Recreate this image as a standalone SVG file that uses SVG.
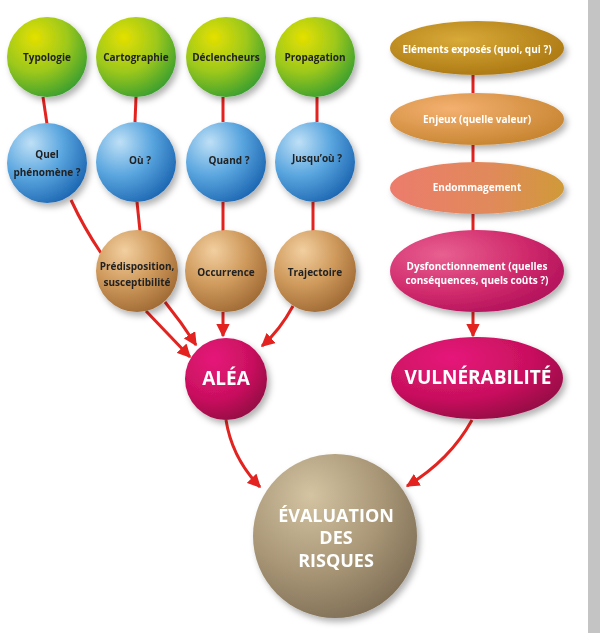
<svg xmlns="http://www.w3.org/2000/svg" width="600" height="633" viewBox="0 0 600 633">
<defs>
<radialGradient id="gGreen" cx="0.35" cy="0.3" r="0.75" fx="0.35" fy="0.25"><stop offset="0" stop-color="#e4e000"/><stop offset="0.55" stop-color="#9cc81c"/><stop offset="1" stop-color="#3a9f30"/></radialGradient>
<radialGradient id="gBlue" cx="0.3" cy="0.3" r="0.8" fx="0.3" fy="0.25"><stop offset="0" stop-color="#bfe0f6"/><stop offset="0.5" stop-color="#5aa6df"/><stop offset="1" stop-color="#1a64b0"/></radialGradient>
<radialGradient id="gBrown" cx="0.35" cy="0.3" r="0.8" fx="0.35" fy="0.25"><stop offset="0" stop-color="#f2cfa0"/><stop offset="0.5" stop-color="#cf9a5c"/><stop offset="1" stop-color="#9a6430"/></radialGradient>
<radialGradient id="gMag" cx="0.35" cy="0.3" r="0.8" fx="0.35" fy="0.25"><stop offset="0" stop-color="#e6187a"/><stop offset="0.6" stop-color="#c8105e"/><stop offset="1" stop-color="#8c0c40"/></radialGradient>
<radialGradient id="gTaupe" cx="0.35" cy="0.3" r="0.8" fx="0.35" fy="0.25"><stop offset="0" stop-color="#d4c4a2"/><stop offset="0.55" stop-color="#a89676"/><stop offset="1" stop-color="#7a6a52"/></radialGradient>
<radialGradient id="gGold" cx="0.4" cy="0.35" r="0.75"><stop offset="0" stop-color="#d8aa38"/><stop offset="1" stop-color="#a87410"/></radialGradient>
<radialGradient id="gOrange" cx="0.35" cy="0.3" r="0.8"><stop offset="0" stop-color="#f4b070"/><stop offset="1" stop-color="#c4822c"/></radialGradient>
<linearGradient id="gEndo" x1="0" y1="0" x2="1" y2="0"><stop offset="0" stop-color="#ec7c6c"/><stop offset="0.6" stop-color="#e08a5a"/><stop offset="1" stop-color="#d09a38"/></linearGradient>
<radialGradient id="gPink" cx="0.3" cy="0.3" r="0.8"><stop offset="0" stop-color="#e86090"/><stop offset="0.6" stop-color="#d02a6c"/><stop offset="1" stop-color="#b0105a"/></radialGradient>
<filter id="sh" x="-20%" y="-20%" width="150%" height="150%"><feDropShadow dx="3" dy="4" stdDeviation="3" flood-color="#000" flood-opacity="0.3"/></filter>
<marker id="ah" viewBox="0 0 10 10" refX="9" refY="5" markerWidth="4.5" markerHeight="4.5" orient="auto" markerUnits="strokeWidth"><path d="M0,0 L10,5 L0,10 Z" fill="#e3231f"/></marker>
</defs>
<style>
.t{font-family:"Open Sans","Noto Sans","DejaVu Sans",sans-serif;font-weight:bold;text-anchor:middle}
.d{fill:#222;font-size:10px}
.w{fill:#fff;font-size:10px}
.big{fill:#fff;font-size:19px}
.ln{stroke:#e3231f;stroke-width:3;fill:none}
.ar{stroke:#e3231f;stroke-width:3;fill:none;marker-end:url(#ah)}
</style>
<rect x="0" y="0" width="600" height="633" fill="#fff"/>
<rect x="588" y="0" width="12" height="633" fill="#c4c4c4"/>
<g id="connectors">
<path class="ln" d="M43,97 L47,124"/>
<path class="ln" d="M136,97 L135,122"/>
<path class="ln" d="M223,97 L223,122"/>
<path class="ln" d="M317,97 L317,122"/>
<path class="ln" d="M71,200 Q84,228 101,253"/>
<path class="ln" d="M137,202 L140,231"/>
<path class="ln" d="M223,202 L223,231"/>
<path class="ln" d="M313,202 L313,231"/>
<path class="ar" d="M146,311 Q168,334 190,357"/>
<path class="ar" d="M165,302 Q182,323 196,345"/>
<path class="ar" d="M223,312 L223,336"/>
<path class="ar" d="M293,306 Q280,330 262,346"/>
<path class="ln" d="M473,75 L473,93"/>
<path class="ln" d="M473,145 L473,163"/>
<path class="ln" d="M473,214 L473,231"/>
<path class="ar" d="M473,312 L473,336"/>
<path class="ar" d="M226,420 Q232,458 260,487"/>
<path class="ar" d="M472,420 Q450,460 407,486"/>
</g>
<g id="typologie" filter="url(#sh)"><circle cx="47" cy="57" r="40" fill="url(#gGreen)"/><text class="t d" x="47" y="61">Typologie</text></g>
<g id="cartographie" filter="url(#sh)"><circle cx="136" cy="57" r="40" fill="url(#gGreen)"/><text class="t d" x="136" y="61">Cartographie</text></g>
<g id="declencheurs" filter="url(#sh)"><circle cx="226" cy="57" r="40" fill="url(#gGreen)"/><text class="t d" x="226" y="61">Déclencheurs</text></g>
<g id="propagation" filter="url(#sh)"><circle cx="315" cy="57" r="40" fill="url(#gGreen)"/><text class="t d" x="315" y="61">Propagation</text></g>
<g id="quel" filter="url(#sh)"><circle cx="47" cy="163" r="40" fill="url(#gBlue)"/><text class="t d" x="47" y="158">Quel</text><text class="t d" x="47" y="176">phénomène ?</text></g>
<g id="ou" filter="url(#sh)"><circle cx="136" cy="162" r="40" fill="url(#gBlue)"/><text class="t d" x="140" y="164">Où ?</text></g>
<g id="quand" filter="url(#sh)"><circle cx="226" cy="162" r="40" fill="url(#gBlue)"/><text class="t d" x="229" y="164">Quand ?</text></g>
<g id="jusquou" filter="url(#sh)"><circle cx="315" cy="162" r="40" fill="url(#gBlue)"/><text class="t d" x="317" y="162">Jusqu’où ?</text></g>
<g id="predisposition" filter="url(#sh)"><circle cx="137" cy="271" r="41" fill="url(#gBrown)"/><text class="t d" x="137" y="270">Prédisposition,</text><text class="t d" x="137" y="286">susceptibilité</text></g>
<g id="occurrence" filter="url(#sh)"><circle cx="226" cy="271" r="41" fill="url(#gBrown)"/><text class="t d" x="226" y="276">Occurrence</text></g>
<g id="trajectoire" filter="url(#sh)"><circle cx="315" cy="271" r="41" fill="url(#gBrown)"/><text class="t d" x="315" y="276">Trajectoire</text></g>
<g id="alea" filter="url(#sh)"><circle cx="226" cy="379" r="41" fill="url(#gMag)"/><text class="t big" x="226" y="385">ALÉA</text></g>
<g id="elements" filter="url(#sh)"><ellipse cx="477" cy="48" rx="87" ry="27" fill="url(#gGold)"/><text class="t w" x="477" y="53">Eléments exposés (quoi, qui ?)</text></g>
<g id="enjeux" filter="url(#sh)"><ellipse cx="477" cy="119" rx="87" ry="26" fill="url(#gOrange)"/><text class="t w" x="477" y="123">Enjeux (quelle valeur)</text></g>
<g id="endommagement" filter="url(#sh)"><ellipse cx="477" cy="188" rx="87" ry="26" fill="url(#gEndo)"/><text class="t w" x="477" y="191">Endommagement</text></g>
<g id="dysfonctionnement" filter="url(#sh)"><ellipse cx="477" cy="271" rx="87" ry="41" fill="url(#gPink)"/><text class="t w" x="477" y="270">Dysfonctionnement (quelles</text><text class="t w" x="477" y="284">conséquences, quels coûts ?)</text></g>
<g id="vulnerabilite" filter="url(#sh)"><ellipse cx="477" cy="378" rx="86" ry="41" fill="url(#gMag)"/><text class="t big" x="478" y="384">VULNÉRABILITÉ</text></g>
<g id="evaluation" filter="url(#sh)"><circle cx="335" cy="536" r="82" fill="url(#gTaupe)"/><text class="t big" x="336" y="522" style="font-size:18px">ÉVALUATION</text><text class="t big" x="336" y="544" style="font-size:18px">DES</text><text class="t big" x="336" y="567" style="font-size:18px">RISQUES</text></g>
</svg>
